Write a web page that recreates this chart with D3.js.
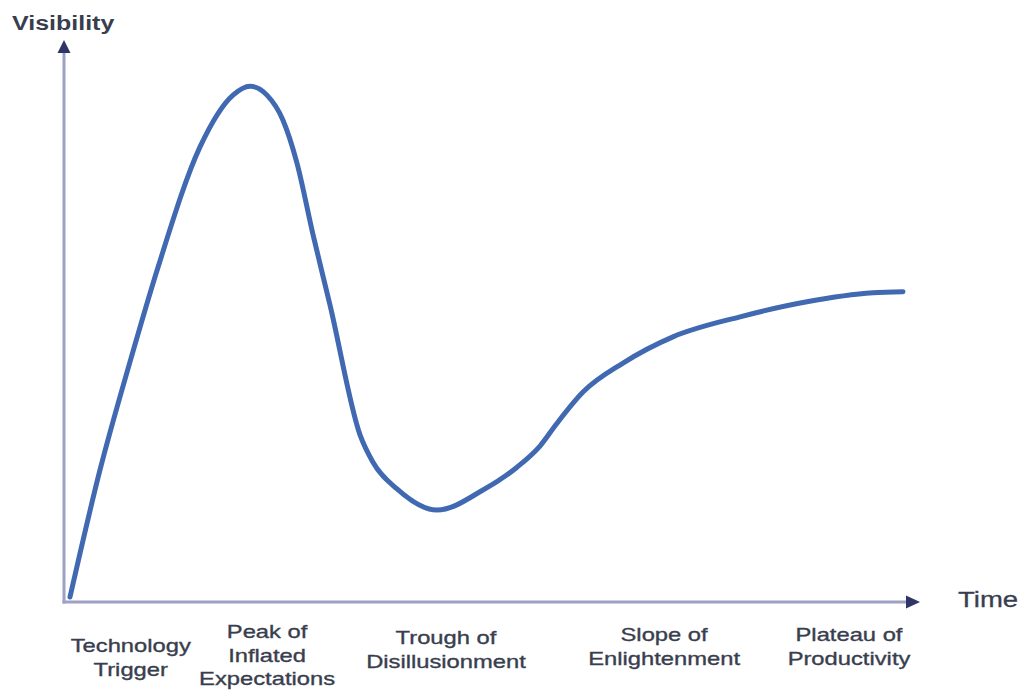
<!DOCTYPE html>
<html>
<head>
<meta charset="utf-8">
<script src="https://cdn.jsdelivr.net/npm/d3@7"></script>
<style>
  html, body { margin: 0; padding: 0; background: #ffffff; }
  svg { display: block; }
  text { font-family: "Liberation Sans", Arial, sans-serif; fill: #393e4e; }
</style>
</head>
<body>
<svg id="chart" width="1023" height="690"></svg>
<script>
// ---- data ----
const curveTime = [0.47, 3.99, 7.51, 10.80, 15.73, 19.60, 21.60, 23.59, 25.47, 27.11, 29.0, 30.99, 34.51, 36.03, 38.85, 43.54, 48.94, 52.93, 55.63, 57.63, 60.68, 65.38, 71.24, 79.11, 86.97, 94.72, 98.24];
const curveVisibility = [0.9, 23.7, 43.1, 60.1, 81.7, 91.0, 92.6, 91.0, 86.5, 78.8, 65.9, 53.3, 30.0, 25.1, 20.3, 16.5, 20.1, 24.2, 28.0, 32.1, 37.7, 42.9, 47.6, 51.2, 53.9, 55.5, 55.7];
const phaseNames = [
  ["Technology", "Trigger"],
  ["Peak of", "Inflated", "Expectations"],
  ["Trough of", "Disillusionment"],
  ["Slope of", "Enlightenment"],
  ["Plateau of", "Productivity"]
];
const phaseTime = [7.6, 23.6, 44.6, 70.2, 91.9];
const yAxisTitle = "Visibility";
const xAxisTitle = "Time";

// ---- layout ----
const svg = d3.select("#chart");
const x = d3.scaleLinear().domain([0, 100]).range([66, 918]);
const y = d3.scaleLinear().domain([0, 100]).range([602, 45]);
const axisY0 = 602, axisX0 = 64;
const stretch = 1.25;

// axes lines
svg.append("line").attr("x1", axisX0).attr("y1", axisY0 + 1.5).attr("x2", axisX0).attr("y2", 52)
  .attr("stroke", "#9ea1c6").attr("stroke-width", 3);
svg.append("line").attr("x1", axisX0 - 1.5).attr("y1", axisY0).attr("x2", 907).attr("y2", axisY0)
  .attr("stroke", "#9ea1c6").attr("stroke-width", 3);
// arrowheads
svg.append("path").attr("d", `M${axisX0},40 L${axisX0 + 6.5},53 L${axisX0 - 6.5},53 Z`).attr("fill", "#2f3566");
svg.append("path").attr("d", `M920,${axisY0} L906,${axisY0 - 6.5} L906,${axisY0 + 6.5} Z`).attr("fill", "#2f3566");

// curve
const pts = curveTime.map((t, i) => [t, curveVisibility[i]]);
const line = d3.line().x(d => x(d[0])).y(d => y(d[1])).curve(d3.curveMonotoneX);
svg.append("path").datum(pts).attr("d", line)
  .attr("fill", "none").attr("stroke", "#4069b2").attr("stroke-width", 5)
  .attr("stroke-linecap", "round").attr("stroke-linejoin", "round");

// titles
svg.append("text").attr("transform", `translate(12,30) scale(${stretch},1)`)
  .attr("font-size", 20).attr("font-weight", "bold").attr("fill", "#383d55").text(yAxisTitle);
svg.append("text").attr("transform", `translate(958,607) scale(${stretch},1)`)
  .attr("font-size", 22).attr("fill", "#383d50")
  .attr("stroke", "#383d50").attr("stroke-width", 0.3).text(xAxisTitle);

// phase labels
const lineH = 23.5;
phaseNames.forEach((lines, i) => {
  const cx = x(phaseTime[i]);
  const baseTop = lines.length === 3 ? 638 : (i === 0 ? 652 : (i === 2 ? 644 : 641));
  lines.forEach((s, j) => {
    svg.append("text")
      .attr("transform", `translate(${cx},${baseTop + j * lineH}) scale(${stretch},1)`)
      .attr("text-anchor", "middle").attr("font-size", 19)
      .attr("stroke", "#393e4e").attr("stroke-width", 0.35)
      .text(s);
  });
});
</script>
</body>
</html>
